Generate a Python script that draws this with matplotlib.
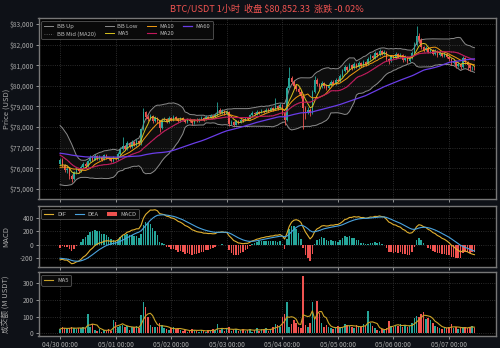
import numpy as np
import pandas as pd
import matplotlib
matplotlib.use('Agg')
import matplotlib.pyplot as plt
import matplotlib.dates as mdates
from matplotlib.ticker import FuncFormatter, MultipleLocator

plt.rcParams['font.family'] = ['Noto Sans CJK SC', 'DejaVu Sans']
plt.rcParams['axes.unicode_minus'] = False

# ---------------- data ----------------
symbol = "BTC/USDT"
interval = "1小时"
start_time = "2025-04-30 00:00"

# warm-up closes before the visible window (used only for indicators)
history_close = [
    76700, 76850, 76950, 76800, 76900, 77000, 76850, 76750, 76900, 76800, 76950, 76850,
    76700, 76600, 76650, 76500, 76550, 76400, 76500, 76450, 76350, 76500, 76600, 76550,
    76650, 76700, 76600, 76750, 76650, 76700, 76800, 76750, 76850, 76900, 76800, 76950,
    77050, 77000, 77150, 77250, 77300,
    77500, 77650, 77550, 77750, 77600, 77450, 77250,
    76800, 76500, 76250, 76050, 75900, 76000, 75850, 75950, 76050, 75900, 76100, 76200,
]

close = [
    76420, 76150, 75900, 75980, 75620, 75480, 75800, 75950, 75850, 76050,
    76200, 76100, 76350, 76500, 76420, 76600, 76480, 76550, 76400, 76620,
    76500, 76450, 76350, 76500, 76450, 76700, 76950, 77100, 76950, 77200,
    77050, 77250, 77150, 77300, 77200, 77900, 78750, 78500, 78400, 78550,
    78300, 78450, 78300, 77950, 78350, 78400, 78250, 78450, 78350, 78500,
    78380, 78300, 78450, 78350, 78250, 78400, 78300, 78200, 78350, 78300,
    78400, 78450, 78350, 78500, 78450, 78550, 78500, 78600, 78850, 78700,
    78800, 78650, 78750, 78150, 78250, 78100, 78300, 78200, 78350, 78300,
    78450, 78400, 78600, 78700, 78650, 78750, 78700, 78800, 78750, 78850,
    78800, 78900, 78850, 79000, 78900, 79050, 78700, 78350, 79900, 80400,
    80200, 80000, 79850, 79700, 79500, 78900, 78750, 78850, 78700, 79700,
    80300, 80100, 79950, 80150, 80000, 79900, 80050, 80200, 80100, 80300,
    80250, 80500, 80700, 80900, 80750, 81000, 80850, 81050, 80900, 81100,
    80950, 81150, 81050, 81300, 81450, 81350, 81600, 81500, 81700, 81550,
    81650, 81300, 81200, 81450, 81350, 81550, 81400, 81500, 81250, 81400,
    81200, 81350, 81600, 82000, 82400, 82250, 81900, 81750, 81850, 81650,
    81750, 81550, 81700, 81500, 81600, 81450, 81550, 81400, 81300, 81100,
    81200, 80950, 81050, 80900, 81350, 81150, 81000, 80850, 80870, 80852.33,
]

high = [
    76500, 76480, 76200, 76100, 76050, 75700, 75880, 76050, 76000, 76150,
    76300, 76280, 76420, 76650, 76580, 76700, 76650, 76620, 76600, 76700,
    76680, 76560, 76500, 76580, 76550, 76780, 77050, 77500, 77150, 77300,
    77250, 77350, 77300, 77400, 77380, 77950, 78900, 78800, 78600, 78650,
    78600, 78550, 78500, 78350, 78420, 78500, 78450, 78520, 78500, 78580,
    78550, 78420, 78500, 78480, 78400, 78460, 78450, 78350, 78400, 78420,
    78460, 78520, 78480, 78560, 78550, 78620, 78600, 78680, 79200, 78900,
    78880, 78850, 78820, 78780, 78320, 78300, 78360, 78350, 78420, 78400,
    78500, 78500, 78650, 78780, 78750, 78820, 78800, 78880, 78850, 78920,
    78900, 78980, 78950, 79400, 79050, 79150, 79100, 78750, 80000, 80900,
    80500, 80300, 80100, 79950, 79800, 79550, 79000, 78950, 78900, 79800,
    80500, 80400, 80150, 80250, 80200, 80080, 80150, 80300, 80280, 80380,
    80380, 80580, 80800, 81000, 80950, 81100, 81050, 81150, 81100, 81200,
    81150, 81250, 81200, 81400, 81550, 81500, 81700, 81650, 81800, 81750,
    81720, 81700, 81350, 81520, 81500, 81620, 81600, 81580, 81550, 81480,
    81450, 81420, 81700, 82150, 82900, 82550, 82300, 81950, 81950, 81900,
    81820, 81800, 81780, 81750, 81680, 81650, 81620, 81600, 81450, 81350,
    81280, 81250, 81150, 81100, 81450, 81400, 81200, 81050, 80980, 80950,
]

low = [
    76150, 76050, 75800, 75750, 75500, 75330, 75420, 75700, 75750, 75800,
    76000, 76000, 76050, 76300, 76350, 76380, 76400, 76420, 76330, 76380,
    76450, 76380, 76280, 76300, 76380, 76420, 76650, 76900, 76880, 76900,
    76980, 77000, 77080, 77100, 77120, 77150, 77850, 78400, 78300, 78350,
    78200, 78250, 78200, 77750, 77900, 78280, 78180, 78200, 78280, 78300,
    78320, 78220, 78250, 78300, 78180, 78200, 78250, 78120, 78150, 78250,
    78260, 78350, 78300, 78320, 78400, 78420, 78450, 78460, 78550, 78650,
    78650, 78600, 78600, 78050, 78100, 78050, 78080, 78150, 78180, 78250,
    78280, 78350, 78380, 78550, 78600, 78600, 78650, 78680, 78700, 78720,
    78750, 78780, 78800, 78820, 78850, 78880, 78600, 78100, 78300, 79850,
    80100, 79900, 79750, 79600, 79400, 77900, 78400, 78650, 78550, 78650,
    79650, 80000, 79850, 79900, 79900, 79820, 79850, 80000, 80050, 80050,
    80180, 80200, 80450, 80650, 80680, 80700, 80780, 80800, 80850, 80850,
    80900, 80900, 80980, 81000, 81250, 81280, 81300, 81420, 81450, 81480,
    81500, 81200, 81050, 81150, 81280, 81300, 81350, 81350, 81150, 81200,
    81100, 81150, 81300, 81550, 81950, 82100, 81800, 81650, 81700, 81600,
    81600, 81500, 81500, 81420, 81450, 81380, 81400, 81350, 81200, 81000,
    81050, 80850, 80900, 80800, 80850, 81050, 80750, 80700, 80780, 80760,
]

# turnover, million USDT
volume = [
    25, 35, 30, 25, 32, 35, 30, 28, 32, 30,
    35, 30, 115, 40, 55, 20, 15, 25, 10, 20,
    15, 25, 15, 80, 70, 40, 45, 50, 40, 45,
    20, 35, 40, 45, 30, 110, 185, 155, 100, 50,
    40, 35, 40, 60, 50, 30, 25, 20, 30, 35,
    25, 30, 20, 15, 20, 10, 15, 25, 20, 15,
    10, 20, 15, 10, 20, 15, 25, 20, 55, 20,
    25, 15, 30, 35, 15, 20, 25, 15, 20, 25,
    15, 20, 25, 10, 20, 30, 15, 25, 20, 30,
    15, 25, 40, 55, 50, 40, 100, 115, 185, 40,
    55, 80, 60, 40, 30, 345, 50, 35, 60, 185,
    90, 195, 120, 60, 40, 50, 35, 30, 25, 30,
    45, 35, 40, 55, 50, 45, 40, 30, 50, 35,
    40, 55, 45, 135, 60, 45, 30, 20, 15, 25,
    20, 30, 75, 45, 40, 50, 45, 55, 40, 50,
    35, 45, 60, 90, 105, 100, 115, 130, 85, 90,
    80, 60, 45, 40, 30, 25, 35, 30, 40, 55,
    30, 35, 25, 30, 40, 35, 30, 40, 45, 30,
]

# ---------------- indicators ----------------
n = len(close)
full = pd.Series(history_close + close, dtype=float)
ma5 = full.rolling(5).mean().values[-n:]
ma10 = full.rolling(10).mean().values[-n:]
ma20 = full.rolling(20).mean()
std20 = full.rolling(20).std()
bb_up = (ma20 + 2 * std20).values[-n:]
bb_low = (ma20 - 2 * std20).values[-n:]
ma20 = ma20.values[-n:]
ma60 = full.rolling(60).mean().values[-n:]
ema12 = full.ewm(span=12, adjust=False).mean()
ema26 = full.ewm(span=26, adjust=False).mean()
dif_s = ema12 - ema26
dea_s = dif_s.ewm(span=9, adjust=False).mean()
dif = dif_s.values[-n:]
dea = dea_s.values[-n:]
hist = 2 * (dif - dea)

close_a = np.array(close, dtype=float)
open_a = np.array([history_close[-1]] + close[:-1], dtype=float)
high_a = np.array(high, dtype=float)
low_a = np.array(low, dtype=float)
vol_a = np.array(volume, dtype=float)
vol_ma5 = pd.Series(vol_a).rolling(5, min_periods=1).mean().values

times = pd.date_range(start_time, periods=n, freq='h')
x = mdates.date2num(times.to_pydatetime())

UP = '#26a69a'
DOWN = '#ef5350'
up = close_a >= open_a
colors = np.where(up, UP, DOWN)

FIG_BG = '#0e1117'
AX_BG = '#000000'
TXT = '#a8a8a8'
SPINE = '#777777'

fig = plt.figure(figsize=(5.0, 3.48), dpi=100, facecolor=FIG_BG)
ax1 = fig.add_axes([0.077, 0.4273, 0.915, 0.5201])
ax2 = fig.add_axes([0.077, 0.2336, 0.915, 0.1744], sharex=ax1)
ax3 = fig.add_axes([0.077, 0.0353, 0.915, 0.1822], sharex=ax1)

for ax in (ax1, ax2, ax3):
    ax.set_facecolor(AX_BG)
    for sp in ax.spines.values():
        sp.set_color(SPINE)
        sp.set_linewidth(1.0)
    ax.tick_params(colors=TXT, labelsize=4.8, length=2, width=0.6, pad=1.5)
    ax.grid(True, color='#3a3a3a', linestyle=':', linewidth=0.6)
    ax.set_axisbelow(True)

w = 0.65 / 24.0
leg_kw = dict(fontsize=4.2, facecolor='#0a0a0a', edgecolor='#555555',
              labelcolor='#bbbbbb', framealpha=1.0, handlelength=1.6,
              handletextpad=0.6, columnspacing=1.5, borderpad=0.45,
              labelspacing=0.4)

# --- price panel ---
ax1.fill_between(x, bb_low, bb_up, color='#ffffff', alpha=0.06, linewidth=0)
ax1.plot(x, bb_up, color='#8c8c8c', lw=0.7, label='BB Up')
ax1.plot(x, ma20, color='#6e6e6e', lw=0.6, ls=':', label='BB Mid (MA20)')
ax1.plot(x, bb_low, color='#8c8c8c', lw=0.7, label='BB Low')
ax1.vlines(x, low_a, high_a, colors=colors, lw=0.6)
body_b = np.minimum(open_a, close_a)
body_h = np.maximum(np.abs(close_a - open_a), 8)
ax1.bar(x, body_h, bottom=body_b, width=w, color=colors, linewidth=0)
ax1.plot(x, ma5, color='#d9c21e', lw=0.7, label='MA5')
ax1.plot(x, ma10, color='#f39c12', lw=0.7, label='MA10')
ax1.plot(x, ma20, color='#c2185b', lw=0.8, label='MA20')
ax1.plot(x, ma60, color='#6a3de8', lw=0.9, label='MA60')
ax1.yaxis.set_major_formatter(FuncFormatter(lambda v, p: f'${v:,.0f}'))
ax1.yaxis.set_major_locator(MultipleLocator(1000))
ax1.set_ylim(74490, 83280)
ax1.set_ylabel('Price (USD)', color=TXT, fontsize=5.5)
h_, l_ = ax1.get_legend_handles_labels()
order = ['BB Up', 'BB Mid (MA20)', 'BB Low', 'MA5', 'MA10', 'MA20', 'MA60']
hh = [h_[l_.index(k)] for k in order]
leg = ax1.legend(hh, order, loc='upper left', ncol=4, **leg_kw)
leg.get_frame().set_linewidth(0.6)
plt.setp(ax1.get_xticklabels(), visible=False)

# --- MACD panel ---
ax2.bar(x, hist, width=w, color=np.where(hist >= 0, UP, DOWN), linewidth=0, label='MACD')
ax2.plot(x, dif, color='#e0b030', lw=0.8, label='DIF')
ax2.plot(x, dea, color='#4aa3df', lw=0.8, label='DEA')
ax2.set_ylabel('MACD', color=TXT, fontsize=5.5)
ax2.yaxis.set_major_locator(MultipleLocator(200))
ax2.set_ylim(-335, 585)
h2, l2 = ax2.get_legend_handles_labels()
o2 = ['DIF', 'DEA', 'MACD']
leg2 = ax2.legend([h2[l2.index(k)] for k in o2], o2, loc='upper left', ncol=3, **leg_kw)
leg2.get_frame().set_linewidth(0.6)
plt.setp(ax2.get_xticklabels(), visible=False)

# --- volume panel ---
ax3.bar(x, vol_a, width=w, color=colors, linewidth=0)
ax3.plot(x, vol_ma5, color='#c9a227', lw=0.8, label='MA5')
ax3.set_ylabel('成交额 (M USDT)', color=TXT, fontsize=5.5)
ax3.yaxis.set_major_locator(MultipleLocator(100))
ax3.set_ylim(-15, 366)
leg3 = ax3.legend(loc='upper left', **leg_kw)
leg3.get_frame().set_linewidth(0.6)
ax3.xaxis.set_major_locator(mdates.DayLocator())
ax3.xaxis.set_major_formatter(mdates.DateFormatter('%m/%d %H:%M'))

for ax in (ax1, ax2, ax3):
    ax.yaxis.set_label_coords(-0.062, 0.5)

last = close[-1]
chg = (close[-1] - close[-2]) / close[-2] * 100
title_color = DOWN if chg < 0 else UP
fig.text(0.534, 0.976, f'{symbol} {interval}  收盘 ${last:,.2f}  涨跌 {chg:+.2f}%',
         ha='center', va='center', color=title_color, fontsize=6.6)

fig.savefig('out.png', dpi=100, facecolor=FIG_BG)
